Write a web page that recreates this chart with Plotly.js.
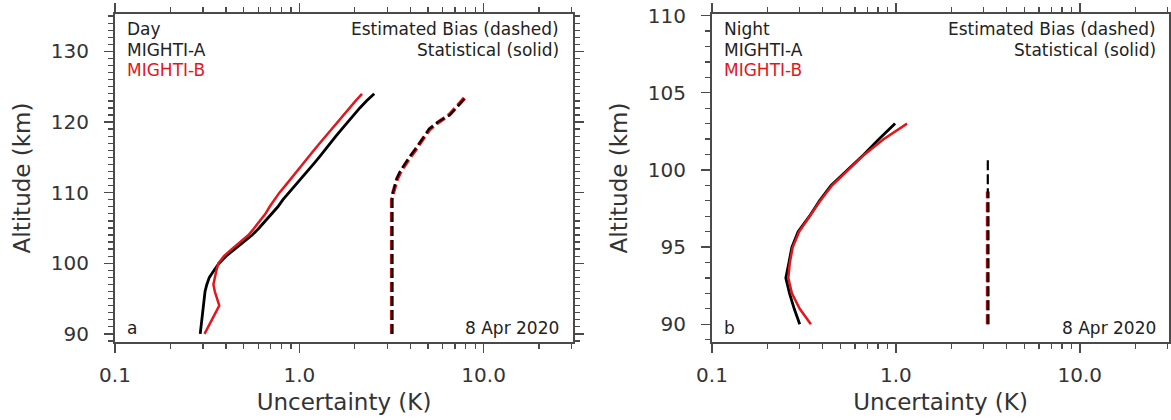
<!DOCTYPE html>
<html>
<head>
<meta charset="utf-8">
<script src="https://cdn.plot.ly/plotly-3.0.1.min.js"></script>
<style>html,body{margin:0;padding:0;background:#fff;}#chart{width:1171px;height:420px;}</style>
</head>
<body>
<div id="chart"></div>
<script>
// ---- Data ----
const dayAlt = [90,91,92,93,94,95,96,97,98,99,100,101,102,103,104,105,106,107,108,109,110,111,112,113,114,115,116,117,118,119,120,121,122,123,124];
const dayStatA = [0.290,0.293,0.296,0.299,0.301,0.303,0.308,0.315,0.325,0.345,0.367,0.400,0.445,0.500,0.555,0.605,0.655,0.710,0.765,0.815,0.880,0.950,1.030,1.110,1.190,1.280,1.370,1.470,1.580,1.700,1.830,1.970,2.130,2.320,2.550];
const dayStatB = [0.306,0.320,0.335,0.350,0.368,0.358,0.348,0.342,0.348,0.355,0.364,0.390,0.430,0.480,0.530,0.570,0.610,0.655,0.690,0.730,0.780,0.840,0.900,0.970,1.040,1.120,1.200,1.290,1.390,1.500,1.610,1.730,1.860,2.020,2.190];
const dayBiasAlt = [90,95,100,105,109,110,111,112,113,114,115,116,117,118,119,120,121,122,123,123.5];
const dayBiasA = [3.18,3.18,3.18,3.18,3.18,3.22,3.29,3.38,3.52,3.72,3.95,4.22,4.50,4.78,5.05,5.65,6.55,7.10,7.65,8.00];
const dayBiasB = [3.18,3.18,3.18,3.18,3.18,3.23,3.30,3.40,3.55,3.75,3.98,4.25,4.52,4.80,5.10,5.70,6.50,7.05,7.60,7.95];

const nightAlt = [90,91,92,93,94,95,96,97,98,99,100,101,102,103];
const nightStatA = [0.300,0.280,0.264,0.252,0.262,0.272,0.294,0.339,0.384,0.444,0.545,0.670,0.810,0.990];
const nightStatB = [0.345,0.300,0.272,0.260,0.265,0.275,0.298,0.340,0.388,0.450,0.550,0.675,0.860,1.150];
const nightBiasAltA = [90,92,94,96,98,100,100.7];
const nightBiasA = [3.16,3.16,3.16,3.16,3.16,3.16,3.16];
const nightBiasAltB = [90,92,94,96,98,98.6];
const nightBiasB = [3.16,3.16,3.16,3.16,3.16,3.16];

const xTickVals = [0.1, 1, 10];
const xTickText = ['0.1', '1.0', '10.0'];
const xMinorVals = [0.2,0.3,0.4,0.5,0.6,0.7,0.8,0.9,2,3,4,5,6,7,8,9,20,30];
const dayYTicks = [90,100,110,120,130];
const nightYTicks = [90,95,100,105,110];
const labelsDay = ['Day', 'MIGHTI-A', 'MIGHTI-B'];
const labelsNight = ['Night', 'MIGHTI-A', 'MIGHTI-B'];
const legendRight = ['Estimated Bias (dashed)', 'Statistical (solid)'];
const panelLetters = ['a', 'b'];
const dateText = '8 Apr 2020';

// ---- Styling ----
const BLACK = '#000000';
const RED = '#e3161c';
const AXC = '#4a4a4a';
const FONT = 'DejaVu Sans';

const W = 1171, H = 420;
const M = {l: 115, r: 2, t: 14, b: 78};
const PW = W - M.l - M.r, PH = H - M.t - M.b;
const p1 = [115, 573], p2 = [712, 1169];
const dom1 = [(p1[0]-M.l)/PW, (p1[1]-M.l)/PW];
const dom2 = [(p2[0]-M.l)/PW, (p2[1]-M.l)/PW];

function solid(x, y, color, xa, ya, w) {
  return {x: x, y: y, xaxis: xa, yaxis: ya, type: 'scatter', mode: 'lines',
    line: {color: color, width: w, dash: 'solid'}, showlegend: false, hoverinfo: 'skip'};
}
function dashed(x, y, color, xa, ya, w) {
  return {x: x, y: y, xaxis: xa, yaxis: ya, type: 'scatter', mode: 'lines',
    line: {color: color, width: w, dash: '10px,4px'}, showlegend: false, hoverinfo: 'skip'};
}

const traces = [
  solid(dayStatA, dayAlt, BLACK, 'x', 'y', 2.8),
  solid(dayStatB, dayAlt, RED, 'x', 'y', 2.5),
  dashed(dayBiasB, dayBiasAlt, RED, 'x', 'y', 4),
  dashed(dayBiasA, dayBiasAlt, BLACK, 'x', 'y', 2.2),
  solid(nightStatA, nightAlt, BLACK, 'x2', 'y2', 2.8),
  solid(nightStatB, nightAlt, RED, 'x2', 'y2', 2.5),
  dashed(nightBiasB, nightBiasAltB, RED, 'x2', 'y2', 4),
  dashed(nightBiasA, nightBiasAltA, BLACK, 'x2', 'y2', 2.2)
];

function xAxis(domain, anchor) {
  return {
    domain: domain, anchor: anchor, type: 'log', range: [-1, 1.485],
    tickmode: 'array', tickvals: xTickVals, ticktext: xTickText,
    ticks: 'outside', ticklen: 9, tickwidth: 1.5, tickcolor: AXC,
    showline: true, linecolor: AXC, linewidth: 2, mirror: 'allticks',
    showgrid: false, zeroline: false, ticklabelstandoff: 5,
    tickfont: {family: FONT, size: 20, color: '#333'},
    minor: {tickmode: 'array', tickvals: xMinorVals, ticks: 'outside', ticklen: 5, tickwidth: 1.3, tickcolor: AXC, showgrid: false},
    title: {text: 'Uncertainty (K)', font: {family: FONT, size: 23, color: '#333'}, standoff: 8}
  };
}
function yAxis(range, ticks, anchor) {
  return {
    domain: [0, 1], anchor: anchor, range: range,
    tickmode: 'array', tickvals: ticks,
    ticks: 'outside', ticklen: 9, tickwidth: 1.5, tickcolor: AXC,
    showline: true, linecolor: AXC, linewidth: 2, mirror: 'allticks',
    showgrid: false, zeroline: false, ticklabelstandoff: 11,
    tickfont: {family: FONT, size: 20, color: '#333'},
    minor: {dtick: 1, tick0: 90, ticks: 'outside', ticklen: 5, tickwidth: 1.3, tickcolor: AXC, showgrid: false},
    title: {text: 'Altitude (km)', font: {family: FONT, size: 23, color: '#333'}, standoff: 14}
  };
}

function ann(text, px, py, panel, anchor, color) {
  const x0 = panel === 1 ? p1[0] : p2[0];
  const x1 = panel === 1 ? p1[1] : p2[1];
  return {
    text: text, showarrow: false,
    xref: panel === 1 ? 'x domain' : 'x2 domain',
    yref: panel === 1 ? 'y domain' : 'y2 domain',
    x: (px - x0) / (x1 - x0), y: (M.t + PH - py) / PH,
    xanchor: anchor, yanchor: 'middle',
    font: {family: FONT, size: 17, color: color || '#222'}
  };
}

const annotations = [
  ann(labelsDay[0], 125, 29, 1, 'left'),
  ann(labelsDay[1], 125, 50, 1, 'left'),
  ann(labelsDay[2], 125, 70, 1, 'left', RED),
  ann(legendRight[0], 561, 29, 1, 'right'),
  ann(legendRight[1], 561, 50, 1, 'right'),
  ann(panelLetters[0], 125, 328, 1, 'left'),
  ann(dateText, 561, 328, 1, 'right'),
  ann(labelsNight[0], 722, 29, 2, 'left'),
  ann(labelsNight[1], 722, 50, 2, 'left'),
  ann(labelsNight[2], 722, 70, 2, 'left', RED),
  ann(legendRight[0], 1158, 29, 2, 'right'),
  ann(legendRight[1], 1158, 50, 2, 'right'),
  ann(panelLetters[1], 722, 328, 2, 'left'),
  ann(dateText, 1158, 328, 2, 'right')
];

const layout = {
  width: W, height: H, margin: M,
  paper_bgcolor: '#ffffff', plot_bgcolor: '#ffffff',
  showlegend: false,
  font: {family: FONT, color: '#333'},
  xaxis: xAxis(dom1, 'y'),
  yaxis: yAxis([88.85, 135.3], dayYTicks, 'x'),
  xaxis2: xAxis(dom2, 'y2'),
  yaxis2: yAxis([88.85, 110.1], nightYTicks, 'x2'),
  annotations: annotations
};

Plotly.newPlot('chart', traces, layout, {staticPlot: true, displayModeBar: false});
</script>
</body>
</html>
